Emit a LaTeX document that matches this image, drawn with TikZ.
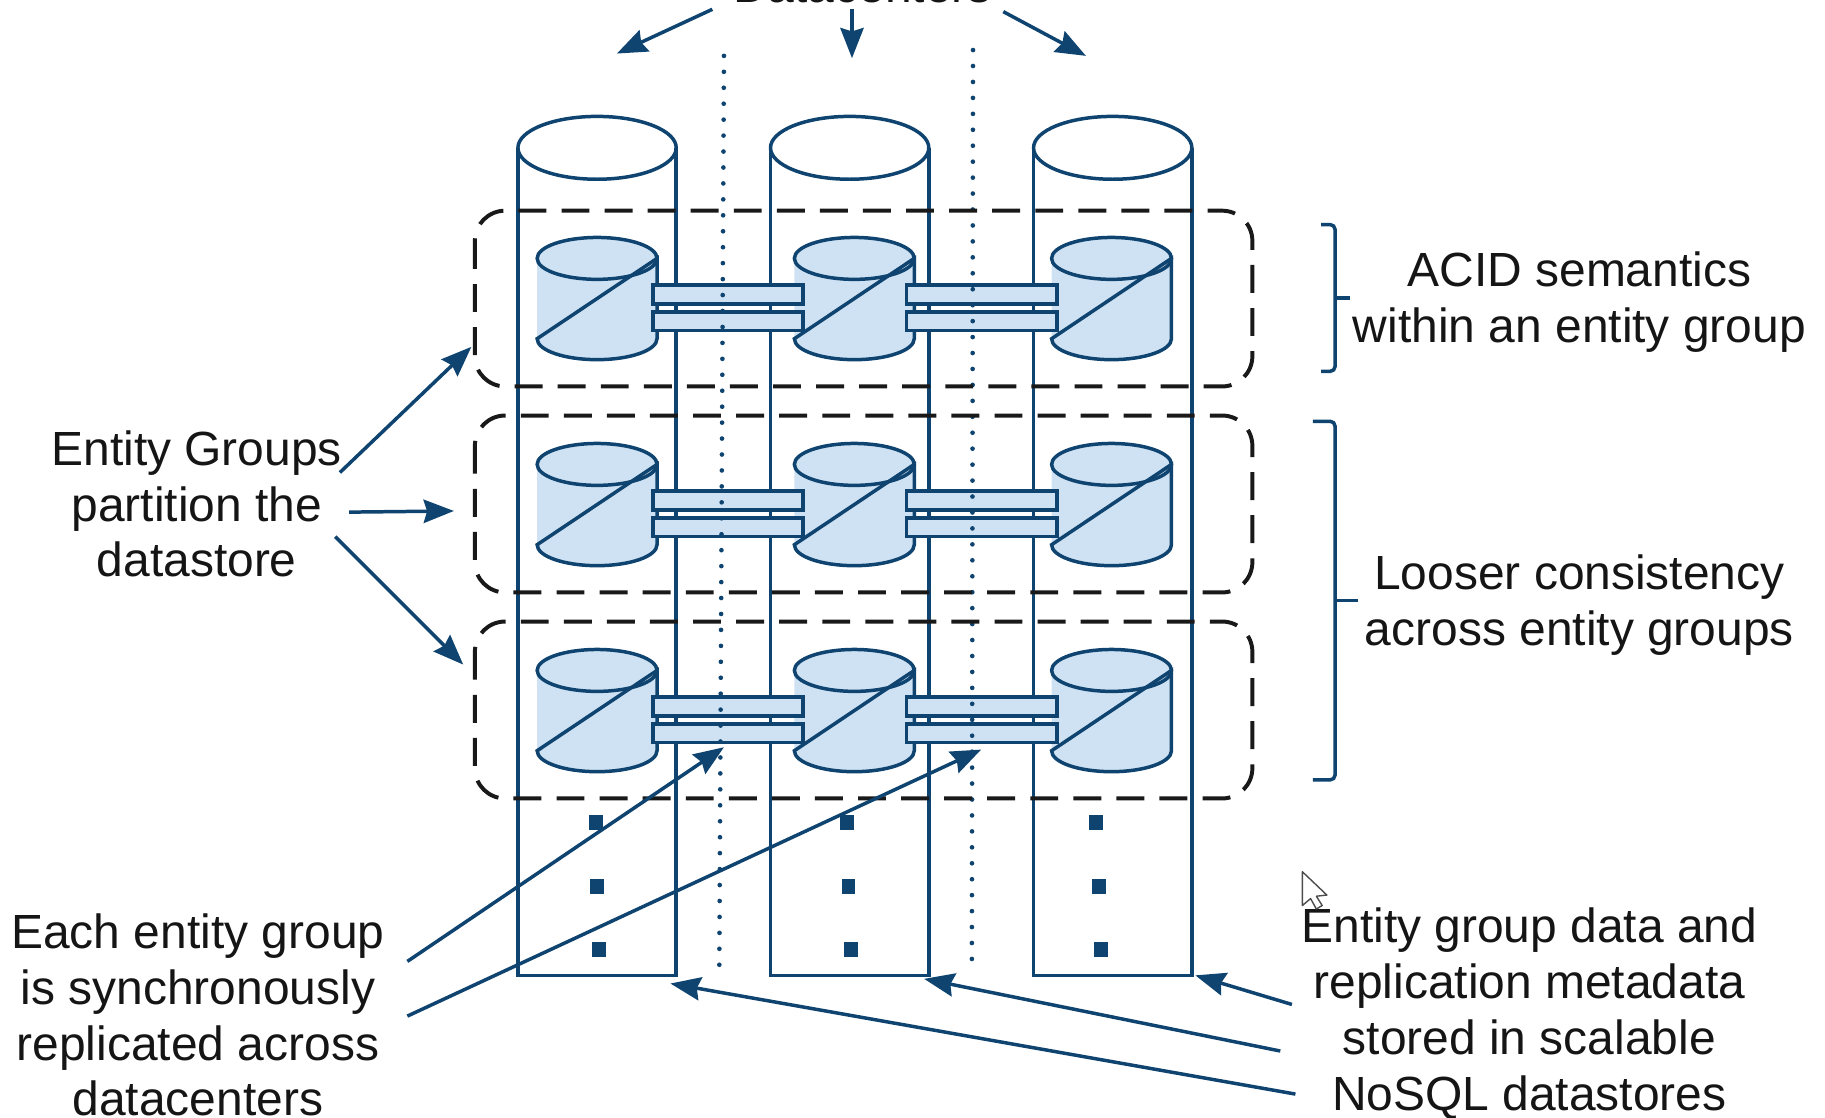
\documentclass[tikz,border=0pt]{standalone}
\usepackage{fontspec}
\setmainfont{Liberation Sans}
\usetikzlibrary{arrows.meta}
\definecolor{navy}{HTML}{0F4470}
\definecolor{lightfill}{HTML}{CFE2F3}
\definecolor{txt}{HTML}{151515}
\tikzset{
  line/.style={draw=navy,line width=1.5pt},
  arrowline/.style={draw=navy,line width=1.5pt,-{Stealth[length=13pt,width=10pt,inset=1.5pt]}},
  groupbox/.style={draw=black!90,line width=1.7pt,dash pattern=on 12pt off 6.5pt,rounded corners=13pt},
  dotline/.style={draw=navy,line width=2pt,line cap=round,dash pattern=on 0pt off 6.85pt},
  label/.style={font=\fontsize{20.6}{24}\selectfont,text=txt,align=center,inner sep=0pt},
  barbox/.style={draw=navy,fill=lightfill,line width=1.5pt},
  dotsq/.style={fill=navy,draw=none}
}
\begin{document}
\begin{tikzpicture}[x=0.5pt,y=-0.5pt]
\useasboundingbox (0,0) rectangle (1568,960);
% large datastore cylinders
\foreach \cx in {513,730,956}{
  \draw[line] (\cx-68,127) -- (\cx-68,838) -- (\cx+68,838) -- (\cx+68,127);
  \draw[line] (\cx,127) ellipse [x radius=34pt,y radius=13.5pt];
}
% small replicas
\foreach \ro in {0,177,354}{
  \foreach \cx in {513,734,955}{
    \fill[lightfill] (\cx-51.5,222+\ro) -- (\cx-51.5,291+\ro) arc[start angle=180,end angle=360,x radius=25.75pt,y radius=9pt] -- (\cx+51.5,222+\ro) -- cycle;
    \draw[line,fill=lightfill] (\cx,222+\ro) ellipse [x radius=25.75pt,y radius=9pt];
    \draw[line] (\cx+51.5,222+\ro) -- (\cx+51.5,291+\ro) arc[start angle=0,end angle=-180,x radius=25.75pt,y radius=9pt] -- cycle;
  }
  \foreach \bx in {561,779}{
    \draw[barbox] (\bx,245+\ro) rectangle (\bx+129,261+\ro);
    \draw[barbox] (\bx,268+\ro) rectangle (\bx+129,284+\ro);
  }
}
% datacenter separators
\coordinate (d1a) at (622,48);
\coordinate (d1b) at (618,835);
\coordinate (d2a) at (836,43);
\coordinate (d2b) at (835,830);
\draw[dotline] (d1a) -- (d1b);
\draw[dotline] (d2a) -- (d2b);
% entity group boxes
\draw[groupbox] (408,181) rectangle (1076,332);
\draw[groupbox] (408,357) rectangle (1076,509);
\draw[groupbox] (408,534) rectangle (1076,686);
% continuation squares
\foreach \px/\py in {512/707,513/762,515/816,728/707,729/762,731/816,942/707,944/762,946/816}{
  \fill[dotsq] (\px-6,\py-6.5) rectangle (\px+6,\py+6.5);
}
% labels
\node[label] (dc) at (741,-12) {Datacenters};
\node[label] (acid) at (1357,259.5) {ACID semantics\\within an entity group};
\node[label] (loose) at (1357,520) {Looser consistency\\across entity groups};
\node[label] (eg) at (169,433) {Entity Groups\\partition the\\datastore};
\node[label] (each) at (170,872) {Each entity group\\is synchronously\\replicated across\\datacenters};
\node[label] (store) at (1314,871) {Entity group data and\\replication metadata\\stored in scalable\\NoSQL datastores};
% arrow ends
\coordinate (t1s) at (612,8);   \coordinate (t1e) at (530,46);
\coordinate (t2s) at (732,8);   \coordinate (t2e) at (732,50);
\coordinate (t3s) at (862,10);  \coordinate (t3e) at (933,48);
\coordinate (l1s) at (292,406); \coordinate (l1e) at (405,298);
\coordinate (l2s) at (300,440); \coordinate (l2e) at (390,439);
\coordinate (l3s) at (288,461); \coordinate (l3e) at (398,571);
\coordinate (b1s) at (350,826); \coordinate (b1e) at (622,642);
\coordinate (b2s) at (350,873); \coordinate (b2e) at (843,644);
\coordinate (r1s) at (1110,863);\coordinate (r1e) at (1027,838);
\coordinate (r2s) at (1100,903);\coordinate (r2e) at (794,841);
\coordinate (r3s) at (1113,940);\coordinate (r3e) at (576,845);
\foreach \n in {t1,t2,t3,l1,l2,l3,b1,b2,r1,r2,r3}{
  \draw[arrowline] (\n s) -- (\n e);
}
% brackets
\draw[line,rounded corners=2pt] (1135,193) -- (1147,193) -- (1147,319) -- (1135,319);
\draw[line] (1147,256) -- (1160,256);
\draw[line,rounded corners=2pt] (1128,362) -- (1147,362) -- (1147,670) -- (1128,670);
\draw[line] (1147,516) -- (1167,516);
% mouse pointer
\draw[draw=black!70,fill=white,line width=0.6pt,line join=round] (1119,749) -- (1119,778) -- (1126,772) -- (1131,781) -- (1136,778) -- (1131,770) -- (1140,769) -- cycle;
\end{tikzpicture}
\end{document}
